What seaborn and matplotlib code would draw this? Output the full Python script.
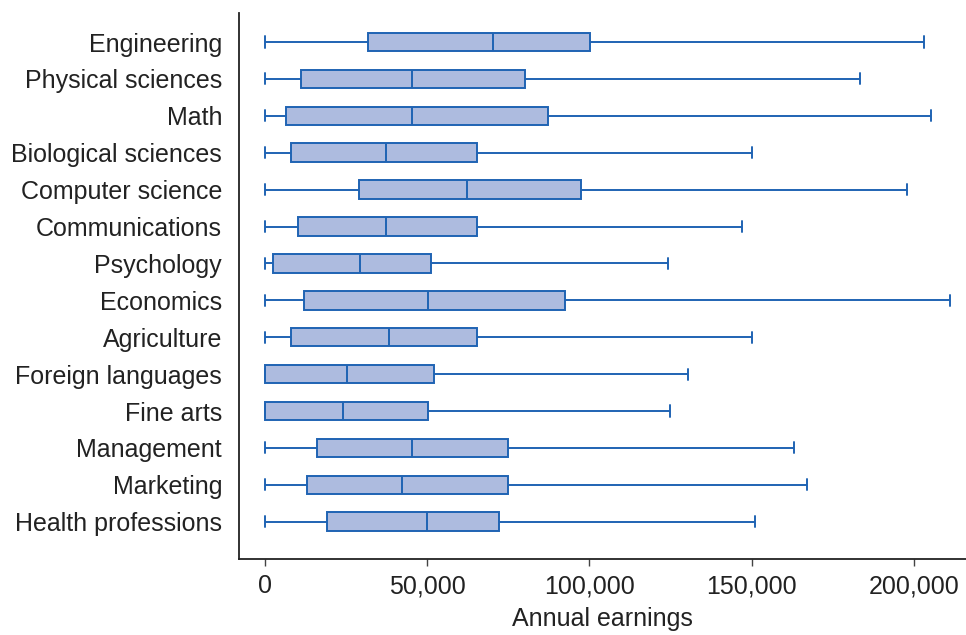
import numpy as np
import pandas as pd
import matplotlib
matplotlib.use("Agg")
import matplotlib.pyplot as plt
import seaborn as sns
from matplotlib.ticker import FuncFormatter

# five-number summaries (min, Q1, median, Q3, max)
majors = ["Engineering", "Physical sciences", "Math", "Biological sciences",
          "Computer science", "Communications", "Psychology", "Economics",
          "Agriculture", "Foreign languages", "Fine arts", "Management",
          "Marketing", "Health professions"]
mins = [0, 0, 0, 0, 0, 0, 0, 0, 0, 0, 0, 0, 0, 0]
q1 = [31700, 11100, 6500, 8000, 29000, 10200, 2500, 12000, 8000, 0, 0, 16000, 12900, 19100]
medians = [70200, 45300, 45300, 37300, 62200, 37300, 29300, 50200, 38200, 25300, 24000, 45300, 42200, 49900]
q3 = [100100, 80100, 87200, 65300, 97300, 65300, 51100, 92400, 65300, 52100, 50200, 74800, 74800, 72100]
maxs = [203000, 183300, 205400, 150000, 198000, 147000, 124100, 211300, 150000, 130300, 125000, 163000, 167200, 151200]

# five points per major -> quartiles land exactly on the summary values
rows = []
for i, m in enumerate(majors):
    for v in (mins[i], q1[i], medians[i], q3[i], maxs[i]):
        rows.append({"major": m, "earnings": v})
df = pd.DataFrame(rows)

sns.set_style("white")
plt.rcParams["font.family"] = ["Liberation Sans", "DejaVu Sans"]

edge = "#1f63b3"
fig = plt.figure(figsize=(9.66, 6.35), dpi=100)
ax = fig.add_axes([0.2479, 0.1197, 0.7521, 0.8598])

sns.boxplot(data=df, x="earnings", y="major", order=majors, orient="h",
            whis=(0, 100), width=0.5, color="#adbbdf", saturation=1,
            linecolor=edge, linewidth=1.4, fliersize=0, ax=ax)

# caps a bit taller than seaborn's default
for ln in ax.lines:
    yd = ln.get_ydata()
    xd = ln.get_xdata()
    if len(xd) == 2 and xd[0] == xd[1] and abs(yd[1] - yd[0]) < 0.45:
        c = (yd[0] + yd[1]) / 2
        ln.set_ydata([c - 0.15, c + 0.15])

ax.set_xlim(-7860, 216100)
ax.set_ylim(14.01, -0.786)
ax.set_xticks([0, 50000, 100000, 150000, 200000])
ax.xaxis.set_major_formatter(FuncFormatter(lambda v, p: f"{int(v):,}"))
ax.set_xlabel("Annual earnings", fontsize=18, color="#222222", labelpad=6)
ax.set_ylabel("")

for s in ["top", "right"]:
    ax.spines[s].set_visible(False)
for s in ["left", "bottom"]:
    ax.spines[s].set_color("#222222")
    ax.spines[s].set_linewidth(1.3)

ax.tick_params(axis="x", bottom=True, length=5, width=1, color="#444444",
               labelsize=18, labelcolor="#222222", pad=6)
ax.tick_params(axis="y", left=False, labelsize=18, labelcolor="#222222", pad=9)

fig.savefig("out.png", dpi=100)
